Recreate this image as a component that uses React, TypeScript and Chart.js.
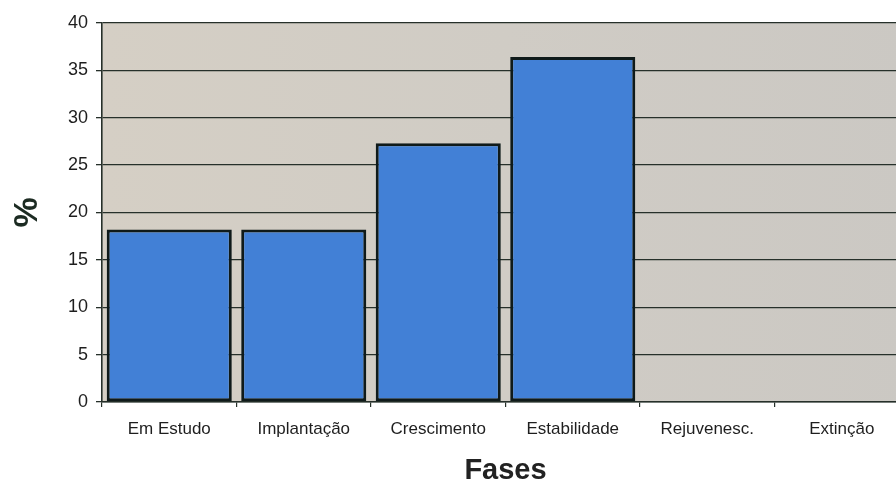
import React, { useEffect, useRef } from "react";
import { Chart, registerables } from "chart.js";

Chart.register(...registerables);

// Distribuição percentual por fase
const fases = ["Em Estudo", "Implantação", "Crescimento", "Estabilidade", "Rejuvenesc.", "Extinção"];
const percentuais = [18.2, 18.2, 27.3, 36.4, 0, 0];
const yMin = 0;
const yMax = 40;
const yStep = 5;

const FONT = "'Liberation Sans', Arial, sans-serif";
const LINE = "#26302a";

// Fundo acinzentado da área de plotagem
const plotBackground = {
  id: "plotBackground",
  beforeDraw(chart: any) {
    const { ctx, chartArea } = chart;
    if (!chartArea) return;
    const g = ctx.createLinearGradient(chartArea.left, 0, chartArea.right, 0);
    g.addColorStop(0, "#d5cfc5");
    g.addColorStop(0.5, "#d0ccc5");
    g.addColorStop(1, "#cbc8c3");
    ctx.save();
    ctx.fillStyle = g;
    ctx.fillRect(chartArea.left, chartArea.top, chartArea.right - chartArea.left, chartArea.bottom - chartArea.top);
    ctx.restore();
  },
};

export default function App() {
  const canvasRef = useRef<HTMLCanvasElement | null>(null);

  useEffect(() => {
    if (!canvasRef.current) return;
    const chart = new Chart(canvasRef.current, {
      type: "bar",
      data: {
        labels: fases,
        datasets: [
          {
            data: percentuais,
            backgroundColor: "#4280d6",
            borderColor: "#0f1a1a",
            borderWidth: 3,
            borderSkipped: false,
            categoryPercentage: 1,
            barPercentage: 0.93,
          },
        ],
      },
      plugins: [plotBackground],
      options: {
        responsive: false,
        animation: false,
        layout: { padding: { top: 23, right: 1, left: 0, bottom: 0 } },
        plugins: {
          legend: { display: false },
          tooltip: { enabled: false },
        },
        scales: {
          x: {
            afterFit(scale: any) {
              scale.height = 80;
            },
            grid: {
              drawOnChartArea: false,
              drawTicks: true,
              tickLength: 5,
              color: LINE,
              lineWidth: 1.2,
              offset: true,
            },
            border: { display: true, color: LINE, width: 1.6 },
            ticks: {
              color: "#1e1e1e",
              padding: 12,
              maxRotation: 0,
              autoSkip: false,
              font: { family: FONT, size: 17 },
            },
            title: {
              display: true,
              text: "Fases",
              color: "#222222",
              padding: { top: 0, bottom: -3 },
              font: { family: FONT, size: 29, weight: "bold", lineHeight: 1 },
            },
          },
          y: {
            min: yMin,
            max: yMax,
            afterFit(scale: any) {
              scale.width = 102;
            },
            grid: {
              color: LINE,
              lineWidth: 1.3,
              drawTicks: true,
              tickLength: 6,
            },
            border: { display: true, color: LINE, width: 1.6 },
            ticks: {
              stepSize: yStep,
              color: "#1e1e1e",
              padding: 8,
              font: { family: FONT, size: 18 },
            },
            title: {
              display: true,
              text: "%",
              color: "#1c2b22",
              padding: { top: 7, bottom: 0 },
              font: { family: FONT, size: 34, weight: "bold", lineHeight: 1.2 },
            },
          },
        },
      },
    });
    return () => chart.destroy();
  }, []);

  return (
    <div
      style={{
        position: "absolute",
        left: 0,
        top: 0,
        width: 896,
        height: 482,
        overflow: "hidden",
        background: "#ffffff",
      }}
    >
      <canvas ref={canvasRef} width={910} height={482} style={{ width: 910, height: 482, display: "block" }} />
    </div>
  );
}
